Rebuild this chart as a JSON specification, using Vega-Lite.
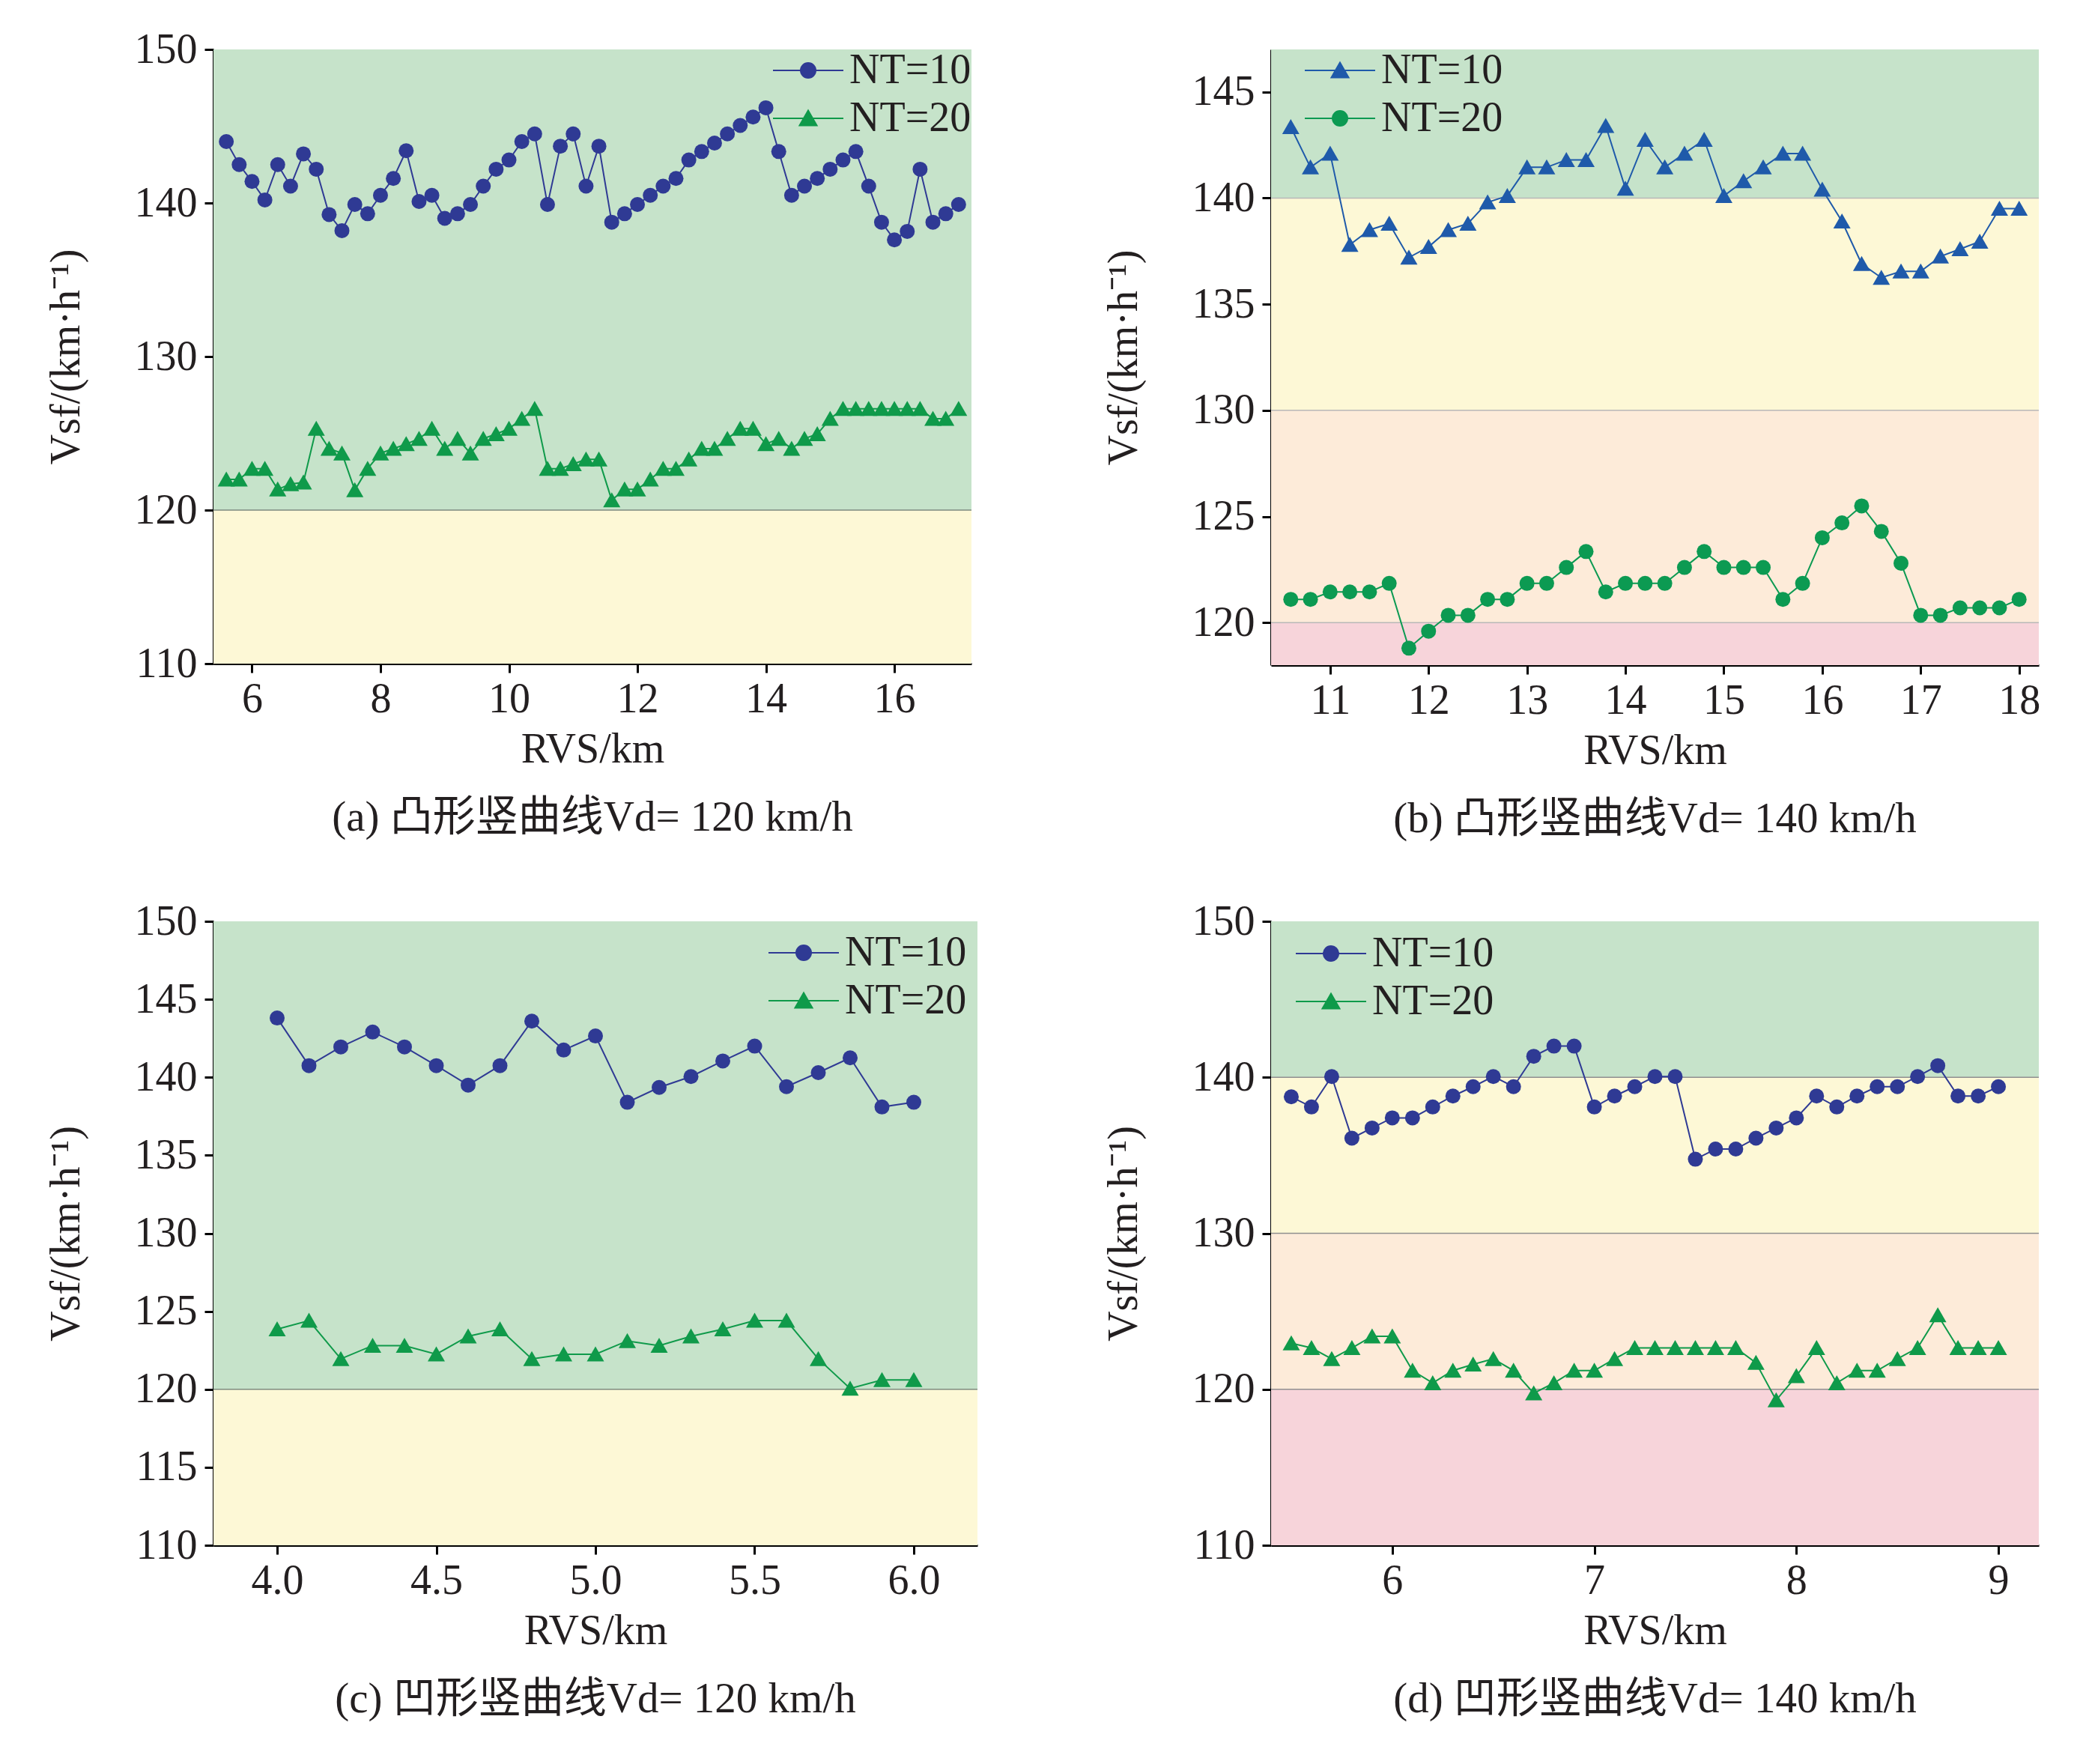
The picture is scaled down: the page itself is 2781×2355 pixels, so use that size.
{
"$schema": "https://vega.github.io/schema/vega-lite/v6.json",
"background": "white",
"padding": {"left": 60, "top": 38, "right": 20, "bottom": 25},
"config": {
  "font": "Liberation Serif, Noto Sans CJK SC",
  "view": {"stroke": null},
  "axis": {"grid": false, "domainColor": "#000000", "domainWidth": 3, "tickColor": "#000000", "tickWidth": 3, "tickSize": 12,
           "labelFont": "Liberation Serif", "labelFontSize": 56, "labelColor": "#231f20", "labelOverlap": false, "labelFlush": false,
           "titleFont": "Liberation Serif", "titleFontSize": 56, "titleFontWeight": "normal", "titleColor": "#231f20"},
  "axisY": {"titlePadding": 62, "labelPadding": 10},
  "axisX": {"titlePadding": 12, "labelPadding": 8},
  "legend": {"labelFont": "Liberation Serif", "labelFontSize": 56, "labelColor": "#231f20", "labelLimit": 0, "symbolSize": 400, "symbolStrokeWidth": 2,
             "symbolOpacity": 1, "labelOffset": 64, "rowPadding": 8, "padding": 0},
  "title": {"font": "Liberation Serif, Noto Sans CJK SC", "fontSize": 57, "fontWeight": "normal", "color": "#231f20", "orient": "bottom", "offset": 36, "anchor": "middle", "frame": "group"}
},
"datasets": {
  "bandA": [{"lo": 120, "hi": 150, "z": "ok"}, {"lo": 110, "hi": 120, "z": "warn"}],
  "bandB": [{"lo": 140, "hi": 147, "z": "ok"}, {"lo": 130, "hi": 140, "z": "warn"}, {"lo": 120, "hi": 130, "z": "caution"}, {"lo": 118, "hi": 120, "z": "bad"}],
  "bandD": [{"lo": 140, "hi": 150, "z": "ok"}, {"lo": 130, "hi": 140, "z": "warn"}, {"lo": 120, "hi": 130, "z": "caution"}, {"lo": 110, "hi": 120, "z": "bad"}],
  "ruleA": [{"y": 120}],
  "ruleB": [{"y": 140}, {"y": 130}, {"y": 120}],
  "a": [
    {"r": 5.6, "v": 144.0, "n": "NT=10"}, {"r": 5.8, "v": 142.5, "n": "NT=10"}, {"r": 6.0, "v": 141.4, "n": "NT=10"}, {"r": 6.2, "v": 140.2, "n": "NT=10"},
    {"r": 6.4, "v": 142.5, "n": "NT=10"}, {"r": 6.6, "v": 141.1, "n": "NT=10"}, {"r": 6.8, "v": 143.2, "n": "NT=10"}, {"r": 7.0, "v": 142.2, "n": "NT=10"},
    {"r": 7.2, "v": 139.25, "n": "NT=10"}, {"r": 7.4, "v": 138.2, "n": "NT=10"}, {"r": 7.6, "v": 139.9, "n": "NT=10"}, {"r": 7.8, "v": 139.3, "n": "NT=10"},
    {"r": 8.0, "v": 140.5, "n": "NT=10"}, {"r": 8.2, "v": 141.6, "n": "NT=10"}, {"r": 8.4, "v": 143.4, "n": "NT=10"}, {"r": 8.6, "v": 140.1, "n": "NT=10"},
    {"r": 8.8, "v": 140.5, "n": "NT=10"}, {"r": 9.0, "v": 139.0, "n": "NT=10"}, {"r": 9.2, "v": 139.3, "n": "NT=10"}, {"r": 9.4, "v": 139.9, "n": "NT=10"},
    {"r": 9.6, "v": 141.1, "n": "NT=10"}, {"r": 9.8, "v": 142.2, "n": "NT=10"}, {"r": 10.0, "v": 142.8, "n": "NT=10"}, {"r": 10.2, "v": 144.0, "n": "NT=10"},
    {"r": 10.4, "v": 144.5, "n": "NT=10"}, {"r": 10.6, "v": 139.9, "n": "NT=10"}, {"r": 10.8, "v": 143.7, "n": "NT=10"}, {"r": 11.0, "v": 144.5, "n": "NT=10"},
    {"r": 11.2, "v": 141.1, "n": "NT=10"}, {"r": 11.4, "v": 143.7, "n": "NT=10"}, {"r": 11.6, "v": 138.75, "n": "NT=10"}, {"r": 11.8, "v": 139.3, "n": "NT=10"},
    {"r": 12.0, "v": 139.9, "n": "NT=10"}, {"r": 12.2, "v": 140.5, "n": "NT=10"}, {"r": 12.4, "v": 141.1, "n": "NT=10"}, {"r": 12.6, "v": 141.6, "n": "NT=10"},
    {"r": 12.8, "v": 142.8, "n": "NT=10"}, {"r": 13.0, "v": 143.35, "n": "NT=10"}, {"r": 13.2, "v": 143.9, "n": "NT=10"}, {"r": 13.4, "v": 144.5, "n": "NT=10"},
    {"r": 13.6, "v": 145.05, "n": "NT=10"}, {"r": 13.8, "v": 145.6, "n": "NT=10"}, {"r": 14.0, "v": 146.2, "n": "NT=10"}, {"r": 14.2, "v": 143.35, "n": "NT=10"},
    {"r": 14.4, "v": 140.5, "n": "NT=10"}, {"r": 14.6, "v": 141.1, "n": "NT=10"}, {"r": 14.8, "v": 141.6, "n": "NT=10"}, {"r": 15.0, "v": 142.2, "n": "NT=10"},
    {"r": 15.2, "v": 142.8, "n": "NT=10"}, {"r": 15.4, "v": 143.35, "n": "NT=10"}, {"r": 15.6, "v": 141.1, "n": "NT=10"}, {"r": 15.8, "v": 138.75, "n": "NT=10"},
    {"r": 16.0, "v": 137.6, "n": "NT=10"}, {"r": 16.2, "v": 138.15, "n": "NT=10"}, {"r": 16.4, "v": 142.2, "n": "NT=10"}, {"r": 16.6, "v": 138.75, "n": "NT=10"},
    {"r": 16.8, "v": 139.3, "n": "NT=10"}, {"r": 17.0, "v": 139.9, "n": "NT=10"},
    {"r": 5.6, "v": 122.0, "n": "NT=20"}, {"r": 5.8, "v": 122.0, "n": "NT=20"}, {"r": 6.0, "v": 122.7, "n": "NT=20"}, {"r": 6.2, "v": 122.7, "n": "NT=20"},
    {"r": 6.4, "v": 121.35, "n": "NT=20"}, {"r": 6.6, "v": 121.7, "n": "NT=20"}, {"r": 6.8, "v": 121.8, "n": "NT=20"}, {"r": 7.0, "v": 125.3, "n": "NT=20"},
    {"r": 7.2, "v": 124.0, "n": "NT=20"}, {"r": 7.4, "v": 123.7, "n": "NT=20"}, {"r": 7.6, "v": 121.3, "n": "NT=20"}, {"r": 7.8, "v": 122.7, "n": "NT=20"},
    {"r": 8.0, "v": 123.7, "n": "NT=20"}, {"r": 8.2, "v": 124.0, "n": "NT=20"}, {"r": 8.4, "v": 124.3, "n": "NT=20"}, {"r": 8.6, "v": 124.65, "n": "NT=20"},
    {"r": 8.8, "v": 125.3, "n": "NT=20"}, {"r": 9.0, "v": 124.0, "n": "NT=20"}, {"r": 9.2, "v": 124.65, "n": "NT=20"}, {"r": 9.4, "v": 123.7, "n": "NT=20"},
    {"r": 9.6, "v": 124.65, "n": "NT=20"}, {"r": 9.8, "v": 124.95, "n": "NT=20"}, {"r": 10.0, "v": 125.3, "n": "NT=20"}, {"r": 10.2, "v": 125.95, "n": "NT=20"},
    {"r": 10.4, "v": 126.6, "n": "NT=20"}, {"r": 10.6, "v": 122.7, "n": "NT=20"}, {"r": 10.8, "v": 122.7, "n": "NT=20"}, {"r": 11.0, "v": 123.0, "n": "NT=20"},
    {"r": 11.2, "v": 123.3, "n": "NT=20"}, {"r": 11.4, "v": 123.3, "n": "NT=20"}, {"r": 11.6, "v": 120.65, "n": "NT=20"}, {"r": 11.8, "v": 121.35, "n": "NT=20"},
    {"r": 12.0, "v": 121.35, "n": "NT=20"}, {"r": 12.2, "v": 122.0, "n": "NT=20"}, {"r": 12.4, "v": 122.7, "n": "NT=20"}, {"r": 12.6, "v": 122.7, "n": "NT=20"},
    {"r": 12.8, "v": 123.3, "n": "NT=20"}, {"r": 13.0, "v": 124.0, "n": "NT=20"}, {"r": 13.2, "v": 124.0, "n": "NT=20"}, {"r": 13.4, "v": 124.65, "n": "NT=20"},
    {"r": 13.6, "v": 125.3, "n": "NT=20"}, {"r": 13.8, "v": 125.3, "n": "NT=20"}, {"r": 14.0, "v": 124.3, "n": "NT=20"}, {"r": 14.2, "v": 124.65, "n": "NT=20"},
    {"r": 14.4, "v": 124.0, "n": "NT=20"}, {"r": 14.6, "v": 124.65, "n": "NT=20"}, {"r": 14.8, "v": 124.95, "n": "NT=20"}, {"r": 15.0, "v": 125.95, "n": "NT=20"},
    {"r": 15.2, "v": 126.6, "n": "NT=20"}, {"r": 15.4, "v": 126.6, "n": "NT=20"}, {"r": 15.6, "v": 126.6, "n": "NT=20"}, {"r": 15.8, "v": 126.6, "n": "NT=20"},
    {"r": 16.0, "v": 126.6, "n": "NT=20"}, {"r": 16.2, "v": 126.6, "n": "NT=20"}, {"r": 16.4, "v": 126.6, "n": "NT=20"}, {"r": 16.6, "v": 125.95, "n": "NT=20"},
    {"r": 16.8, "v": 125.95, "n": "NT=20"}, {"r": 17.0, "v": 126.6, "n": "NT=20"}
  ],
  "b": [
    {"r": 10.6, "v": 143.35, "n": "NT=10"}, {"r": 10.8, "v": 141.45, "n": "NT=10"}, {"r": 11.0, "v": 142.1, "n": "NT=10"}, {"r": 11.2, "v": 137.8, "n": "NT=10"},
    {"r": 11.4, "v": 138.5, "n": "NT=10"}, {"r": 11.6, "v": 138.8, "n": "NT=10"}, {"r": 11.8, "v": 137.2, "n": "NT=10"}, {"r": 12.0, "v": 137.7, "n": "NT=10"},
    {"r": 12.2, "v": 138.5, "n": "NT=10"}, {"r": 12.4, "v": 138.8, "n": "NT=10"}, {"r": 12.6, "v": 139.8, "n": "NT=10"}, {"r": 12.8, "v": 140.1, "n": "NT=10"},
    {"r": 13.0, "v": 141.45, "n": "NT=10"}, {"r": 13.2, "v": 141.45, "n": "NT=10"}, {"r": 13.4, "v": 141.8, "n": "NT=10"}, {"r": 13.6, "v": 141.8, "n": "NT=10"},
    {"r": 13.8, "v": 143.4, "n": "NT=10"}, {"r": 14.0, "v": 140.45, "n": "NT=10"}, {"r": 14.2, "v": 142.75, "n": "NT=10"}, {"r": 14.4, "v": 141.45, "n": "NT=10"},
    {"r": 14.6, "v": 142.1, "n": "NT=10"}, {"r": 14.8, "v": 142.75, "n": "NT=10"}, {"r": 15.0, "v": 140.1, "n": "NT=10"}, {"r": 15.2, "v": 140.8, "n": "NT=10"},
    {"r": 15.4, "v": 141.45, "n": "NT=10"}, {"r": 15.6, "v": 142.1, "n": "NT=10"}, {"r": 15.8, "v": 142.1, "n": "NT=10"}, {"r": 16.0, "v": 140.4, "n": "NT=10"},
    {"r": 16.2, "v": 138.9, "n": "NT=10"}, {"r": 16.4, "v": 136.9, "n": "NT=10"}, {"r": 16.6, "v": 136.25, "n": "NT=10"}, {"r": 16.8, "v": 136.55, "n": "NT=10"},
    {"r": 17.0, "v": 136.55, "n": "NT=10"}, {"r": 17.2, "v": 137.25, "n": "NT=10"}, {"r": 17.4, "v": 137.6, "n": "NT=10"}, {"r": 17.6, "v": 137.95, "n": "NT=10"},
    {"r": 17.8, "v": 139.5, "n": "NT=10"}, {"r": 18.0, "v": 139.5, "n": "NT=10"},
    {"r": 10.6, "v": 121.1, "n": "NT=20"}, {"r": 10.8, "v": 121.1, "n": "NT=20"}, {"r": 11.0, "v": 121.45, "n": "NT=20"}, {"r": 11.2, "v": 121.45, "n": "NT=20"},
    {"r": 11.4, "v": 121.45, "n": "NT=20"}, {"r": 11.6, "v": 121.85, "n": "NT=20"}, {"r": 11.8, "v": 118.8, "n": "NT=20"}, {"r": 12.0, "v": 119.6, "n": "NT=20"},
    {"r": 12.2, "v": 120.35, "n": "NT=20"}, {"r": 12.4, "v": 120.35, "n": "NT=20"}, {"r": 12.6, "v": 121.1, "n": "NT=20"}, {"r": 12.8, "v": 121.1, "n": "NT=20"},
    {"r": 13.0, "v": 121.85, "n": "NT=20"}, {"r": 13.2, "v": 121.85, "n": "NT=20"}, {"r": 13.4, "v": 122.6, "n": "NT=20"}, {"r": 13.6, "v": 123.35, "n": "NT=20"},
    {"r": 13.8, "v": 121.45, "n": "NT=20"}, {"r": 14.0, "v": 121.85, "n": "NT=20"}, {"r": 14.2, "v": 121.85, "n": "NT=20"}, {"r": 14.4, "v": 121.85, "n": "NT=20"},
    {"r": 14.6, "v": 122.6, "n": "NT=20"}, {"r": 14.8, "v": 123.35, "n": "NT=20"}, {"r": 15.0, "v": 122.6, "n": "NT=20"}, {"r": 15.2, "v": 122.6, "n": "NT=20"},
    {"r": 15.4, "v": 122.6, "n": "NT=20"}, {"r": 15.6, "v": 121.1, "n": "NT=20"}, {"r": 15.8, "v": 121.85, "n": "NT=20"}, {"r": 16.0, "v": 124.0, "n": "NT=20"},
    {"r": 16.2, "v": 124.7, "n": "NT=20"}, {"r": 16.4, "v": 125.5, "n": "NT=20"}, {"r": 16.6, "v": 124.3, "n": "NT=20"}, {"r": 16.8, "v": 122.8, "n": "NT=20"},
    {"r": 17.0, "v": 120.35, "n": "NT=20"}, {"r": 17.2, "v": 120.35, "n": "NT=20"}, {"r": 17.4, "v": 120.7, "n": "NT=20"}, {"r": 17.6, "v": 120.7, "n": "NT=20"},
    {"r": 17.8, "v": 120.7, "n": "NT=20"}, {"r": 18.0, "v": 121.1, "n": "NT=20"}
  ],
  "c": [
    {"r": 4.0, "v": 143.8, "n": "NT=10"}, {"r": 4.1, "v": 140.75, "n": "NT=10"}, {"r": 4.2, "v": 141.95, "n": "NT=10"}, {"r": 4.3, "v": 142.9, "n": "NT=10"},
    {"r": 4.4, "v": 141.95, "n": "NT=10"}, {"r": 4.5, "v": 140.75, "n": "NT=10"}, {"r": 4.6, "v": 139.5, "n": "NT=10"}, {"r": 4.7, "v": 140.75, "n": "NT=10"},
    {"r": 4.8, "v": 143.6, "n": "NT=10"}, {"r": 4.9, "v": 141.75, "n": "NT=10"}, {"r": 5.0, "v": 142.65, "n": "NT=10"}, {"r": 5.1, "v": 138.4, "n": "NT=10"},
    {"r": 5.2, "v": 139.35, "n": "NT=10"}, {"r": 5.3, "v": 140.05, "n": "NT=10"}, {"r": 5.4, "v": 141.05, "n": "NT=10"}, {"r": 5.5, "v": 142.0, "n": "NT=10"},
    {"r": 5.6, "v": 139.4, "n": "NT=10"}, {"r": 5.7, "v": 140.3, "n": "NT=10"}, {"r": 5.8, "v": 141.25, "n": "NT=10"}, {"r": 5.9, "v": 138.1, "n": "NT=10"},
    {"r": 6.0, "v": 138.4, "n": "NT=10"},
    {"r": 4.0, "v": 123.85, "n": "NT=20"}, {"r": 4.1, "v": 124.4, "n": "NT=20"}, {"r": 4.2, "v": 121.95, "n": "NT=20"}, {"r": 4.3, "v": 122.8, "n": "NT=20"},
    {"r": 4.4, "v": 122.8, "n": "NT=20"}, {"r": 4.5, "v": 122.25, "n": "NT=20"}, {"r": 4.6, "v": 123.4, "n": "NT=20"}, {"r": 4.7, "v": 123.85, "n": "NT=20"},
    {"r": 4.8, "v": 121.95, "n": "NT=20"}, {"r": 4.9, "v": 122.25, "n": "NT=20"}, {"r": 5.0, "v": 122.25, "n": "NT=20"}, {"r": 5.1, "v": 123.1, "n": "NT=20"},
    {"r": 5.2, "v": 122.8, "n": "NT=20"}, {"r": 5.3, "v": 123.4, "n": "NT=20"}, {"r": 5.4, "v": 123.85, "n": "NT=20"}, {"r": 5.5, "v": 124.4, "n": "NT=20"},
    {"r": 5.6, "v": 124.4, "n": "NT=20"}, {"r": 5.7, "v": 121.95, "n": "NT=20"}, {"r": 5.8, "v": 120.05, "n": "NT=20"}, {"r": 5.9, "v": 120.6, "n": "NT=20"},
    {"r": 6.0, "v": 120.6, "n": "NT=20"}
  ],
  "d": [
    {"r": 5.5, "v": 138.75, "n": "NT=10"}, {"r": 5.6, "v": 138.1, "n": "NT=10"}, {"r": 5.7, "v": 140.05, "n": "NT=10"}, {"r": 5.8, "v": 136.1, "n": "NT=10"},
    {"r": 5.9, "v": 136.75, "n": "NT=10"}, {"r": 6.0, "v": 137.4, "n": "NT=10"}, {"r": 6.1, "v": 137.4, "n": "NT=10"}, {"r": 6.2, "v": 138.1, "n": "NT=10"},
    {"r": 6.3, "v": 138.8, "n": "NT=10"}, {"r": 6.4, "v": 139.4, "n": "NT=10"}, {"r": 6.5, "v": 140.05, "n": "NT=10"}, {"r": 6.6, "v": 139.4, "n": "NT=10"},
    {"r": 6.7, "v": 141.35, "n": "NT=10"}, {"r": 6.8, "v": 142.0, "n": "NT=10"}, {"r": 6.9, "v": 142.0, "n": "NT=10"}, {"r": 7.0, "v": 138.1, "n": "NT=10"},
    {"r": 7.1, "v": 138.8, "n": "NT=10"}, {"r": 7.2, "v": 139.4, "n": "NT=10"}, {"r": 7.3, "v": 140.05, "n": "NT=10"}, {"r": 7.4, "v": 140.05, "n": "NT=10"},
    {"r": 7.5, "v": 134.75, "n": "NT=10"}, {"r": 7.6, "v": 135.4, "n": "NT=10"}, {"r": 7.7, "v": 135.4, "n": "NT=10"}, {"r": 7.8, "v": 136.1, "n": "NT=10"},
    {"r": 7.9, "v": 136.75, "n": "NT=10"}, {"r": 8.0, "v": 137.4, "n": "NT=10"}, {"r": 8.1, "v": 138.8, "n": "NT=10"}, {"r": 8.2, "v": 138.1, "n": "NT=10"},
    {"r": 8.3, "v": 138.8, "n": "NT=10"}, {"r": 8.4, "v": 139.4, "n": "NT=10"}, {"r": 8.5, "v": 139.4, "n": "NT=10"}, {"r": 8.6, "v": 140.05, "n": "NT=10"},
    {"r": 8.7, "v": 140.75, "n": "NT=10"}, {"r": 8.8, "v": 138.8, "n": "NT=10"}, {"r": 8.9, "v": 138.8, "n": "NT=10"}, {"r": 9.0, "v": 139.4, "n": "NT=10"},
    {"r": 5.5, "v": 122.95, "n": "NT=20"}, {"r": 5.6, "v": 122.65, "n": "NT=20"}, {"r": 5.7, "v": 121.95, "n": "NT=20"}, {"r": 5.8, "v": 122.65, "n": "NT=20"},
    {"r": 5.9, "v": 123.4, "n": "NT=20"}, {"r": 6.0, "v": 123.4, "n": "NT=20"}, {"r": 6.1, "v": 121.2, "n": "NT=20"}, {"r": 6.2, "v": 120.4, "n": "NT=20"},
    {"r": 6.3, "v": 121.2, "n": "NT=20"}, {"r": 6.4, "v": 121.6, "n": "NT=20"}, {"r": 6.5, "v": 121.95, "n": "NT=20"}, {"r": 6.6, "v": 121.2, "n": "NT=20"},
    {"r": 6.7, "v": 119.75, "n": "NT=20"}, {"r": 6.8, "v": 120.4, "n": "NT=20"}, {"r": 6.9, "v": 121.2, "n": "NT=20"}, {"r": 7.0, "v": 121.2, "n": "NT=20"},
    {"r": 7.1, "v": 121.95, "n": "NT=20"}, {"r": 7.2, "v": 122.65, "n": "NT=20"}, {"r": 7.3, "v": 122.65, "n": "NT=20"}, {"r": 7.4, "v": 122.65, "n": "NT=20"},
    {"r": 7.5, "v": 122.65, "n": "NT=20"}, {"r": 7.6, "v": 122.65, "n": "NT=20"}, {"r": 7.7, "v": 122.65, "n": "NT=20"}, {"r": 7.8, "v": 121.7, "n": "NT=20"},
    {"r": 7.9, "v": 119.3, "n": "NT=20"}, {"r": 8.0, "v": 120.85, "n": "NT=20"}, {"r": 8.1, "v": 122.65, "n": "NT=20"}, {"r": 8.2, "v": 120.4, "n": "NT=20"},
    {"r": 8.3, "v": 121.2, "n": "NT=20"}, {"r": 8.4, "v": 121.2, "n": "NT=20"}, {"r": 8.5, "v": 121.95, "n": "NT=20"}, {"r": 8.6, "v": 122.65, "n": "NT=20"},
    {"r": 8.7, "v": 124.75, "n": "NT=20"}, {"r": 8.8, "v": 122.65, "n": "NT=20"}, {"r": 8.9, "v": 122.65, "n": "NT=20"}, {"r": 9.0, "v": 122.65, "n": "NT=20"}
  ]
},
"columns": 2,
"spacing": {"row": 80, "column": 166},
"resolve": {"scale": {"x": "independent", "y": "independent", "color": "independent", "shape": "independent", "fill": "independent", "stroke": "independent"}},
"concat": [
  {
    "width": 1012, "height": 820,
    "title": {"text": "(a) 凸形竖曲线Vd= 120 km/h"},
    "resolve": {"scale": {"color": "independent", "shape": "independent", "stroke": "independent"}},
    "layer": [
      {"data": {"name": "bandA"}, "mark": {"type": "rect"},
       "encoding": {
         "y": {"field": "lo", "type": "quantitative", "scale": {"domain": [110, 150], "nice": false, "zero": false},
               "axis": {"values": [110, 120, 130, 140, 150]}, "title": "Vsf/(km·h⁻¹)"},
         "y2": {"field": "hi"},
         "fill": {"field": "z", "type": "nominal", "scale": {"domain": ["ok", "warn", "caution", "bad"], "range": ["#c6e3ca", "#fdf8d6", "#fdebd9", "#f7d4da"]}, "legend": null}}},
      {"data": {"name": "ruleA"}, "mark": {"type": "rule", "color": "#7d8a7f", "strokeWidth": 1.5},
       "encoding": {"y": {"field": "y", "type": "quantitative"}}},
      {"data": {"name": "a"}, "mark": {"type": "line", "strokeWidth": 2},
       "encoding": {
         "x": {"field": "r", "type": "quantitative", "scale": {"domain": [5.4, 17.2], "nice": false, "zero": false},
               "axis": {"values": [6, 8, 10, 12, 14, 16], "format": "d"}, "title": "RVS/km"},
         "y": {"field": "v", "type": "quantitative"},
         "color": {"field": "n", "type": "nominal", "scale": {"domain": ["NT=10", "NT=20"], "range": ["#2f3a94", "#0f9a4a"]}, "legend": null}}},
      {"data": {"name": "a"}, "mark": {"type": "point", "filled": true, "opacity": 1, "size": 400},
       "encoding": {
         "x": {"field": "r", "type": "quantitative"},
         "y": {"field": "v", "type": "quantitative"},
         "color": {"field": "n", "type": "nominal", "scale": {"domain": ["NT=10", "NT=20"], "range": ["#2f3a94", "#0f9a4a"]}, "legend": null},
         "shape": {"field": "n", "type": "nominal", "scale": {"domain": ["NT=10", "NT=20"], "range": ["circle", "M0,-1.05L1.15,0.95L-1.15,0.95Z"]}, "legend": null}}},
      {"data": {"name": "a"}, "transform": [{"filter": "false"}],
       "mark": {"type": "point", "filled": true, "opacity": 1, "size": 400},
       "encoding": {
         "x": {"field": "r", "type": "quantitative"},
         "y": {"field": "v", "type": "quantitative"},
         "color": {"field": "n", "type": "nominal", "scale": {"domain": ["NT=10", "NT=20"], "range": ["#2f3a94", "#0f9a4a"]},
                   "legend": {"orient": "top-right", "offset": 0, "title": null}},
         "stroke": {"field": "n", "type": "nominal", "scale": {"domain": ["NT=10", "NT=20"], "range": ["#2f3a94", "#0f9a4a"]},
                   "legend": {"orient": "top-right", "offset": 0, "title": null}},
         "shape": {"field": "n", "type": "nominal", "scale": {"domain": ["NT=10", "NT=20"], "range": ["M-1,0H8.4M4.7,0A1,1,0,1,1,2.7,0A1,1,0,1,1,4.7,0Z", "M-1,0H8.4M3.7,-1.05L4.85,0.95L2.55,0.95Z"]},
                   "legend": {"orient": "top-right", "offset": 0, "title": null}}}}
    ]
  },
  {
    "width": 1025, "height": 822,
    "title": {"text": "(b) 凸形竖曲线Vd= 140 km/h"},
    "resolve": {"scale": {"color": "independent", "shape": "independent", "stroke": "independent"}},
    "layer": [
      {"data": {"name": "bandB"}, "mark": {"type": "rect"},
       "encoding": {
         "y": {"field": "lo", "type": "quantitative", "scale": {"domain": [118, 147], "nice": false, "zero": false},
               "axis": {"values": [120, 125, 130, 135, 140, 145]}, "title": "Vsf/(km·h⁻¹)"},
         "y2": {"field": "hi"},
         "fill": {"field": "z", "type": "nominal", "scale": {"domain": ["ok", "warn", "caution", "bad"], "range": ["#c6e3ca", "#fdf8d6", "#fdebd9", "#f7d4da"]}, "legend": null}}},
      {"data": {"name": "ruleB"}, "mark": {"type": "rule", "color": "#b8b8b8", "strokeWidth": 1.5},
       "encoding": {"y": {"field": "y", "type": "quantitative"}}},
      {"data": {"name": "b"}, "mark": {"type": "line", "strokeWidth": 2},
       "encoding": {
         "x": {"field": "r", "type": "quantitative", "scale": {"domain": [10.4, 18.2], "nice": false, "zero": false},
               "axis": {"values": [11, 12, 13, 14, 15, 16, 17, 18], "format": "d"}, "title": "RVS/km"},
         "y": {"field": "v", "type": "quantitative"},
         "color": {"field": "n", "type": "nominal", "scale": {"domain": ["NT=10", "NT=20"], "range": ["#1f5aaa", "#0c9a52"]}, "legend": null}}},
      {"data": {"name": "b"}, "mark": {"type": "point", "filled": true, "opacity": 1, "size": 400},
       "encoding": {
         "x": {"field": "r", "type": "quantitative"},
         "y": {"field": "v", "type": "quantitative"},
         "color": {"field": "n", "type": "nominal", "scale": {"domain": ["NT=10", "NT=20"], "range": ["#1f5aaa", "#0c9a52"]}, "legend": null},
         "shape": {"field": "n", "type": "nominal", "scale": {"domain": ["NT=10", "NT=20"], "range": ["M0,-1.05L1.15,0.95L-1.15,0.95Z", "circle"]}, "legend": null}}},
      {"data": {"name": "b"}, "transform": [{"filter": "false"}],
       "mark": {"type": "point", "filled": true, "opacity": 1, "size": 400},
       "encoding": {
         "x": {"field": "r", "type": "quantitative"},
         "y": {"field": "v", "type": "quantitative"},
         "color": {"field": "n", "type": "nominal", "scale": {"domain": ["NT=10", "NT=20"], "range": ["#1f5aaa", "#0c9a52"]},
                   "legend": {"orient": "top-left", "offset": 0, "title": null, "labelOffset": 91}},
         "stroke": {"field": "n", "type": "nominal", "scale": {"domain": ["NT=10", "NT=20"], "range": ["#1f5aaa", "#0c9a52"]},
                   "legend": {"orient": "top-left", "offset": 0, "title": null, "labelOffset": 91}},
         "shape": {"field": "n", "type": "nominal", "scale": {"domain": ["NT=10", "NT=20"], "range": ["M1.7,0H11.1M6.4,-1.05L7.55,0.95L5.25,0.95Z", "M1.7,0H11.1M7.4,0A1,1,0,1,1,5.4,0A1,1,0,1,1,7.4,0Z"]},
                   "legend": {"orient": "top-left", "offset": 0, "title": null, "labelOffset": 91}}}}
    ]
  },
  {
    "width": 1020, "height": 833,
    "title": {"text": "(c) 凹形竖曲线Vd= 120 km/h"},
    "resolve": {"scale": {"color": "independent", "shape": "independent", "stroke": "independent"}},
    "layer": [
      {"data": {"name": "bandA"}, "mark": {"type": "rect"},
       "encoding": {
         "y": {"field": "lo", "type": "quantitative", "scale": {"domain": [110, 150], "nice": false, "zero": false},
               "axis": {"values": [110, 115, 120, 125, 130, 135, 140, 145, 150]}, "title": "Vsf/(km·h⁻¹)"},
         "y2": {"field": "hi"},
         "fill": {"field": "z", "type": "nominal", "scale": {"domain": ["ok", "warn", "caution", "bad"], "range": ["#c6e3ca", "#fdf8d6", "#fdebd9", "#f7d4da"]}, "legend": null}}},
      {"data": {"name": "ruleA"}, "mark": {"type": "rule", "color": "#7d8a7f", "strokeWidth": 1.5},
       "encoding": {"y": {"field": "y", "type": "quantitative"}}},
      {"data": {"name": "c"}, "mark": {"type": "line", "strokeWidth": 2},
       "encoding": {
         "x": {"field": "r", "type": "quantitative", "scale": {"domain": [3.8, 6.2], "nice": false, "zero": false},
               "axis": {"values": [4, 4.5, 5, 5.5, 6], "format": ".1f"}, "title": "RVS/km"},
         "y": {"field": "v", "type": "quantitative"},
         "color": {"field": "n", "type": "nominal", "scale": {"domain": ["NT=10", "NT=20"], "range": ["#2f3a94", "#0f9a4a"]}, "legend": null}}},
      {"data": {"name": "c"}, "mark": {"type": "point", "filled": true, "opacity": 1, "size": 400},
       "encoding": {
         "x": {"field": "r", "type": "quantitative"},
         "y": {"field": "v", "type": "quantitative"},
         "color": {"field": "n", "type": "nominal", "scale": {"domain": ["NT=10", "NT=20"], "range": ["#2f3a94", "#0f9a4a"]}, "legend": null},
         "shape": {"field": "n", "type": "nominal", "scale": {"domain": ["NT=10", "NT=20"], "range": ["circle", "M0,-1.05L1.15,0.95L-1.15,0.95Z"]}, "legend": null}}},
      {"data": {"name": "c"}, "transform": [{"filter": "false"}],
       "mark": {"type": "point", "filled": true, "opacity": 1, "size": 400},
       "encoding": {
         "x": {"field": "r", "type": "quantitative"},
         "y": {"field": "v", "type": "quantitative"},
         "color": {"field": "n", "type": "nominal", "scale": {"domain": ["NT=10", "NT=20"], "range": ["#2f3a94", "#0f9a4a"]},
                   "legend": {"orient": "top-right", "offset": 14, "title": null}},
         "stroke": {"field": "n", "type": "nominal", "scale": {"domain": ["NT=10", "NT=20"], "range": ["#2f3a94", "#0f9a4a"]},
                   "legend": {"orient": "top-right", "offset": 14, "title": null}},
         "shape": {"field": "n", "type": "nominal", "scale": {"domain": ["NT=10", "NT=20"], "range": ["M-1,0H8.4M4.7,0A1,1,0,1,1,2.7,0A1,1,0,1,1,4.7,0Z", "M-1,0H8.4M3.7,-1.05L4.85,0.95L2.55,0.95Z"]},
                   "legend": {"orient": "top-right", "offset": 14, "title": null}}}}
    ]
  },
  {
    "width": 1025, "height": 833,
    "title": {"text": "(d) 凹形竖曲线Vd= 140 km/h"},
    "resolve": {"scale": {"color": "independent", "shape": "independent", "stroke": "independent"}},
    "layer": [
      {"data": {"name": "bandD"}, "mark": {"type": "rect"},
       "encoding": {
         "y": {"field": "lo", "type": "quantitative", "scale": {"domain": [110, 150], "nice": false, "zero": false},
               "axis": {"values": [110, 120, 130, 140, 150]}, "title": "Vsf/(km·h⁻¹)"},
         "y2": {"field": "hi"},
         "fill": {"field": "z", "type": "nominal", "scale": {"domain": ["ok", "warn", "caution", "bad"], "range": ["#c6e3ca", "#fdf8d6", "#fdebd9", "#f7d4da"]}, "legend": null}}},
      {"data": {"name": "ruleB"}, "mark": {"type": "rule", "color": "#8f8f8f", "strokeWidth": 1.5},
       "encoding": {"y": {"field": "y", "type": "quantitative"}}},
      {"data": {"name": "d"}, "mark": {"type": "line", "strokeWidth": 2},
       "encoding": {
         "x": {"field": "r", "type": "quantitative", "scale": {"domain": [5.4, 9.2], "nice": false, "zero": false},
               "axis": {"values": [6, 7, 8, 9], "format": "d"}, "title": "RVS/km"},
         "y": {"field": "v", "type": "quantitative"},
         "color": {"field": "n", "type": "nominal", "scale": {"domain": ["NT=10", "NT=20"], "range": ["#2f3a94", "#0f9a4a"]}, "legend": null}}},
      {"data": {"name": "d"}, "mark": {"type": "point", "filled": true, "opacity": 1, "size": 400},
       "encoding": {
         "x": {"field": "r", "type": "quantitative"},
         "y": {"field": "v", "type": "quantitative"},
         "color": {"field": "n", "type": "nominal", "scale": {"domain": ["NT=10", "NT=20"], "range": ["#2f3a94", "#0f9a4a"]}, "legend": null},
         "shape": {"field": "n", "type": "nominal", "scale": {"domain": ["NT=10", "NT=20"], "range": ["circle", "M0,-1.05L1.15,0.95L-1.15,0.95Z"]}, "legend": null}}},
      {"data": {"name": "d"}, "transform": [{"filter": "false"}],
       "mark": {"type": "point", "filled": true, "opacity": 1, "size": 400},
       "encoding": {
         "x": {"field": "r", "type": "quantitative"},
         "y": {"field": "v", "type": "quantitative"},
         "color": {"field": "n", "type": "nominal", "scale": {"domain": ["NT=10", "NT=20"], "range": ["#2f3a94", "#0f9a4a"]},
                   "legend": {"orient": "top-left", "offset": 15, "title": null}},
         "stroke": {"field": "n", "type": "nominal", "scale": {"domain": ["NT=10", "NT=20"], "range": ["#2f3a94", "#0f9a4a"]},
                   "legend": {"orient": "top-left", "offset": 15, "title": null}},
         "shape": {"field": "n", "type": "nominal", "scale": {"domain": ["NT=10", "NT=20"], "range": ["M-1,0H8.4M4.7,0A1,1,0,1,1,2.7,0A1,1,0,1,1,4.7,0Z", "M-1,0H8.4M3.7,-1.05L4.85,0.95L2.55,0.95Z"]},
                   "legend": {"orient": "top-left", "offset": 15, "title": null}}}}
    ]
  }
]
}
